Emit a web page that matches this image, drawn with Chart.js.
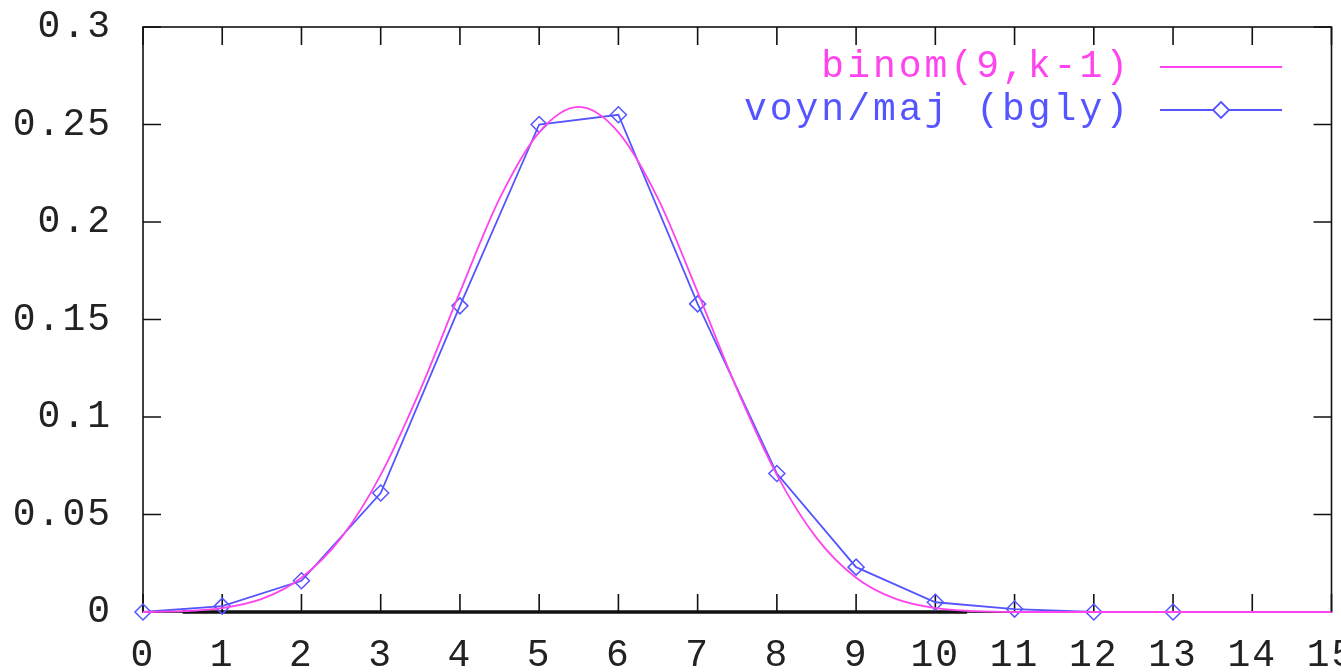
<!DOCTYPE html>
<html>
<head>
<meta charset="utf-8">
<script src="https://cdn.jsdelivr.net/npm/chart.js@4/dist/chart.umd.min.js"></script>
<style>
  html, body { margin: 0; padding: 0; background: #fff; }
  #wrap { width: 1341px; height: 672px; }
</style>
</head>
<body>
<div id="wrap"><canvas id="binomChart" width="1341" height="672"></canvas></div>
<script>
// data
const curveX = [0, 0.5, 1, 1.5, 2, 2.5, 3, 3.5, 4, 4.5, 5, 5.5, 6, 6.5, 7, 7.5, 8, 8.5, 9, 9.5, 10, 10.5, 11, 12, 13, 14, 15];
const curveY = [0, 0.0004, 0.002, 0.0067, 0.0176, 0.038, 0.0703, 0.114, 0.164, 0.212, 0.246, 0.259, 0.246, 0.212, 0.164, 0.114, 0.0703, 0.038, 0.0176, 0.0067, 0.002, 0.0004, 0, 0, 0, 0, 0];
const voynK = [0, 1, 2, 3, 4, 5, 6, 7, 8, 9, 10, 11, 12, 13];
const voynY = [0, 0.003, 0.016, 0.061, 0.157, 0.250, 0.255, 0.158, 0.071, 0.023, 0.005, 0.0015, 0, 0];
const barX = [0.5, 10.4];
const yTickLabels = ['0', '0.05', '0.1', '0.15', '0.2', '0.25', '0.3'];

const FONT = "'Liberation Mono', monospace";
const MAGENTA = '#ff44ee';
const BLUE = '#5555ff';

// gnuplot style frame with inward ticks on all four sides
const framePlugin = {
    id: 'frame',
    beforeDraw(chart) {
        // gnuplot's stroke font is wider than any installed mono font
        chart.ctx.letterSpacing = '2px';
    },
    beforeDatasetsDraw(chart) {
        const { ctx, chartArea: a, scales } = chart;
        ctx.save();
        ctx.strokeStyle = '#111';
        ctx.lineWidth = 1.6;
        ctx.strokeRect(a.left, a.top, a.right - a.left, a.bottom - a.top);
        ctx.beginPath();
        scales.x.ticks.forEach(t => {
            const px = scales.x.getPixelForValue(t.value);
            ctx.moveTo(px, a.bottom); ctx.lineTo(px, a.bottom - 18);
            ctx.moveTo(px, a.top); ctx.lineTo(px, a.top + 18);
        });
        scales.y.ticks.forEach(t => {
            const py = scales.y.getPixelForValue(t.value);
            ctx.moveTo(a.left, py); ctx.lineTo(a.left + 18, py);
            ctx.moveTo(a.right, py); ctx.lineTo(a.right - 18, py);
        });
        ctx.stroke();
        ctx.restore();
    },
    afterDraw(chart) {
        // legend box, top right inside the plot
        const { ctx } = chart;
        const rows = [
            { ds: chart.data.datasets[0], y: 67, marker: false },
            { ds: chart.data.datasets[1], y: 110, marker: true }
        ];
        ctx.save();
        ctx.font = '38px ' + FONT;
        ctx.letterSpacing = '3px';
        ctx.textAlign = 'right';
        ctx.textBaseline = 'middle';
        rows.forEach(r => {
            ctx.fillStyle = r.ds.borderColor;
            ctx.fillText(r.ds.label, 1131, r.y);
            ctx.strokeStyle = r.ds.borderColor;
            ctx.lineWidth = 1.8;
            ctx.beginPath();
            ctx.moveTo(1160, r.y); ctx.lineTo(1282, r.y);
            ctx.stroke();
            if (r.marker) {
                ctx.beginPath();
                ctx.moveTo(1221, r.y - 8); ctx.lineTo(1229, r.y);
                ctx.lineTo(1221, r.y + 8); ctx.lineTo(1213, r.y);
                ctx.closePath();
                ctx.fillStyle = '#fff';
                ctx.fill();
                ctx.stroke();
            }
        });
        ctx.restore();
    }
};

const ctx = document.getElementById('binomChart').getContext('2d');
new Chart(ctx, {
    type: 'line',
    data: {
        datasets: [{
            label: 'binom(9,k-1)',
            data: curveX.map((x, i) => ({ x: x, y: curveY[i] })),
            borderColor: MAGENTA,
            borderWidth: 1.8,
            pointRadius: 0,
            cubicInterpolationMode: 'monotone',
            clip: false
        }, {
            label: 'voyn/maj (bgly)',
            data: voynK.map((x, i) => ({ x: x, y: voynY[i] })),
            borderColor: BLUE,
            backgroundColor: 'rgba(255,255,255,0)',
            borderWidth: 1.8,
            pointStyle: 'rectRot',
            pointRadius: 8,
            pointBorderWidth: 1.5,
            pointBorderColor: BLUE,
            tension: 0,
            clip: false
        }, {
            label: '',
            data: barX.map(x => ({ x: x, y: 0 })),
            borderColor: '#111',
            borderWidth: 3.5,
            pointRadius: 0,
            clip: false
        }]
    },
    options: {
        responsive: false,
        animation: false,
        events: [],
        layout: { padding: { left: 0, right: 6, top: 27, bottom: 0 } },
        plugins: { legend: { display: false }, tooltip: { enabled: false } },
        scales: {
            x: {
                type: 'linear',
                min: 0, max: 15,
                grid: { display: false, drawTicks: false },
                border: { display: false },
                ticks: { stepSize: 1, padding: 21, color: '#222', font: { family: FONT, size: 38 }, maxRotation: 0, autoSkip: false },
                afterFit(scale) { scale.height = 60; scale.paddingLeft = 0; scale.paddingRight = 0; }
            },
            y: {
                min: 0, max: 0.3,
                grid: { display: false, drawTicks: false },
                border: { display: false },
                ticks: {
                    stepSize: 0.05, padding: 31, color: '#222', font: { family: FONT, size: 38 },
                    callback: (v, i) => yTickLabels[i]
                },
                afterFit(scale) { scale.width = 143; scale.paddingTop = 0; scale.paddingBottom = 0; }
            }
        }
    },
    plugins: [framePlugin]
});
</script>
</body>
</html>
